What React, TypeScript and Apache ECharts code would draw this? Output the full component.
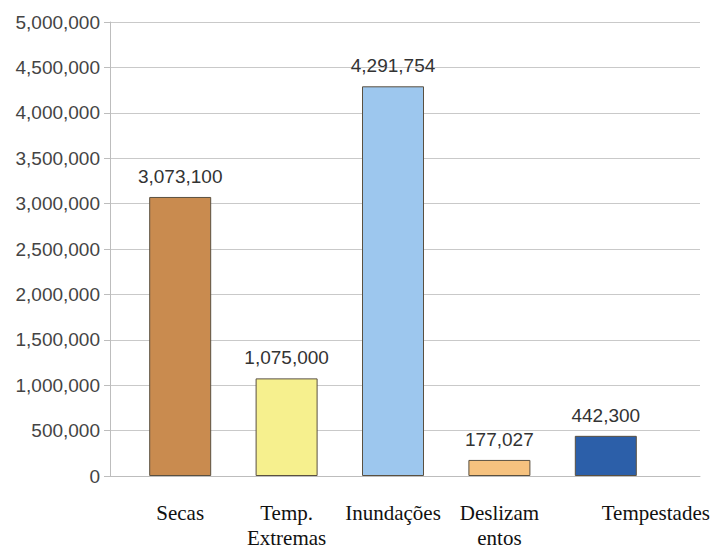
import React, { useEffect, useRef } from "react";
import * as echarts from "echarts";

const categories = ["Secas", "Temp.\nExtremas", "Inundações", "Deslizam\nentos", "Tempestades"];
const values = [3073100, 1075000, 4291754, 177027, 442300];
const colors = ["#C98B4F", "#F6F08E", "#9DC7EE", "#F6C27F", "#2C5FA9"];
const yTicks = [0, 500000, 1000000, 1500000, 2000000, 2500000, 3000000, 3500000, 4000000, 4500000, 5000000];

const fmt = (v: number) => v.toLocaleString("en-US");

export default function App() {
  const ref = useRef<HTMLDivElement>(null);
  useEffect(() => {
    if (!ref.current) return;
    const chart = echarts.init(ref.current, undefined, { renderer: "svg" });
    const yMax = yTicks[yTicks.length - 1];
    const yInterval = yTicks[1] - yTicks[0];
    chart.setOption({
      animation: false,
      backgroundColor: "#ffffff",
      grid: [
        { left: 110, right: 15, top: 22, bottom: 73, outerBoundsMode: "none", containLabel: false },
        { left: 127, right: 56, top: 22, bottom: 73, outerBoundsMode: "none", containLabel: false },
      ],
      xAxis: [
        {
          type: "category",
          gridIndex: 0,
          data: categories,
          axisLine: { show: true, lineStyle: { color: "#bdbdbd" } },
          axisTick: { show: false },
          axisLabel: { show: false },
        },
        {
          type: "category",
          gridIndex: 1,
          data: categories,
          axisLine: { show: false },
          axisTick: { show: false },
          axisLabel: {
            margin: 24,
            color: "#111111",
            fontFamily: "Liberation Serif",
            fontSize: 21,
            lineHeight: 25,
            interval: 0,
            hideOverlap: false,
            formatter: (v: string) => (v === "Tempestades" ? "{r|" + v + "}" : v),
            rich: {
              r: {
                fontFamily: "Liberation Serif",
                fontSize: 21,
                lineHeight: 25,
                color: "#111111",
                padding: [0, 0, 0, 100],
              },
            },
          },
        },
      ],
      yAxis: [
        {
          type: "value",
          gridIndex: 0,
          min: 0,
          max: yMax,
          interval: yInterval,
          axisLine: { show: true, lineStyle: { color: "#bdbdbd" } },
          axisTick: { show: true, length: 6, lineStyle: { color: "#bdbdbd" } },
          splitLine: { show: true, lineStyle: { color: "#c9c9c9" } },
          axisLabel: {
            margin: 10,
            color: "#444444",
            fontFamily: "Liberation Sans",
            fontSize: 19,
            formatter: (v: number) => fmt(v),
          },
        },
        {
          type: "value",
          gridIndex: 1,
          min: 0,
          max: yMax,
          interval: yInterval,
          show: false,
          splitLine: { show: false },
        },
      ],
      series: [
        {
          type: "bar",
          xAxisIndex: 1,
          yAxisIndex: 1,
          barWidth: 62,
          data: values.map((v, i) => ({
            value: v,
            itemStyle: { color: colors[i], borderColor: "#5a5040", borderWidth: 1 },
          })),
          label: {
            show: true,
            position: "top",
            distance: 11,
            color: "#333333",
            fontFamily: "Liberation Sans",
            fontSize: 19,
            formatter: (p: any) => fmt(p.value),
          },
        },
      ],
    });
    return () => chart.dispose();
  }, []);
  return (
    <div
      ref={ref}
      style={{ position: "fixed", left: 0, top: 0, width: 715, height: 549 }}
    />
  );
}
